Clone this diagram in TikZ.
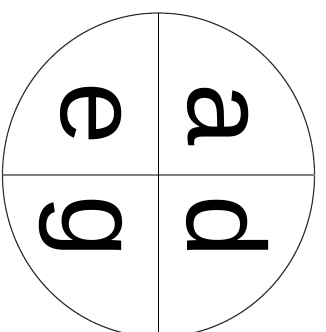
\documentclass[tikz,border=0pt]{standalone}
\usepackage{fontspec}
\setmainfont{Liberation Sans}
\usetikzlibrary{positioning}

\begin{document}
\begin{tikzpicture}[x=1pt, y=-1pt,
    letter/.style={inner sep=0pt, rotate=-90, font=\fontsize{112}{112}\selectfont},
    rim/.style={draw=black!80, line width=1.2pt},
    vline/.style={draw=black, line width=1.8pt},
    hline/.style={draw=black!50, line width=2pt}]

  \useasboundingbox (0,0) rectangle (325,332);
  \clip (0,0) rectangle (325,332);

  % --- Circle and cross ---
  \coordinate (c) at (158.5,175);
  \coordinate (top) at (158.5,13);
  \coordinate (bot) at (158.5,340);
  \coordinate (lft) at (2.5,175);
  \coordinate (rgt) at (314.5,175);

  \draw[rim] (c) ellipse[x radius=156, y radius=162];
  \draw[hline] (lft) -- (rgt);
  \draw[vline] (top) -- (bot);

  % --- Letters, one per quadrant ---
  \node[letter] (e) at (91,113.5) {e};
  \node[letter] (a) at (218,114.5) {a};
  \node[letter] (g) at (81,226.5) {g};
  \node[letter] (d) at (227.5,226.5) {d};
\end{tikzpicture}
\end{document}
